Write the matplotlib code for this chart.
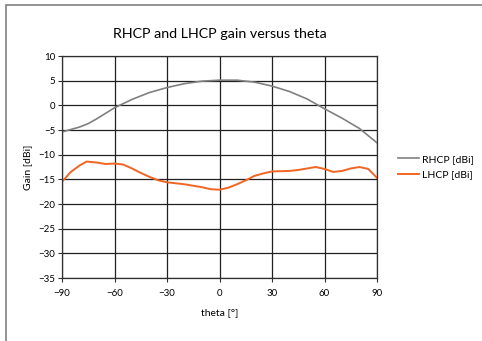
import numpy as np
import matplotlib.pyplot as plt
from matplotlib.patches import Rectangle

plt.rcParams['font.family'] = ['Lato', 'DejaVu Sans']

# gain curves read at 5/10 degree steps
theta_r = [-90, -80, -75, -70, -60, -50, -40, -30, -20, -10, 0, 10, 20, 30, 40, 50, 60, 70, 80, 90]
rhcp = [-5.4, -4.4, -3.7, -2.7, -0.5, 1.2, 2.6, 3.6, 4.4, 4.9, 5.1, 5.1, 4.7, 3.9, 2.8, 1.3, -0.7, -2.6, -4.7, -7.6]

theta_l = [-90, -85, -80, -76, -70, -65, -60, -55, -50, -45, -40, -35, -30, -20, -10, -5, 0,
           5, 10, 15, 20, 25, 30, 40, 45, 50, 55, 60, 65, 70, 75, 80, 85, 90]
lhcp = [-15.5, -13.5, -12.2, -11.4, -11.6, -11.9, -11.8, -12.0, -12.8, -13.7, -14.5, -15.2, -15.6,
        -16.0, -16.6, -17.0, -17.1, -16.7, -16.0, -15.2, -14.3, -13.8, -13.4, -13.3, -13.1, -12.8,
        -12.5, -12.9, -13.5, -13.3, -12.8, -12.5, -12.9, -14.7]

xticks = [-90, -60, -30, 0, 30, 60, 90]
yticks = list(range(-35, 11, 5))

fig = plt.figure(figsize=(4.82, 3.41), dpi=100)
fig.patches.append(Rectangle((6 / 482, -0.1), 1.2, 0.1 + 336 / 341, transform=fig.transFigure,
                             fill=False, edgecolor='#808080', linewidth=1.2))

ax = fig.add_axes([62 / 482, 1 - 278 / 341, 315 / 482, 222 / 341])
ax.plot(theta_r, rhcp, color='#808080', linewidth=1.2, label='RHCP [dBi]')
ax.plot(theta_l, lhcp, color='#f26522', linewidth=1.4, label='LHCP [dBi]')

ax.set_xlim(-90, 90)
ax.set_ylim(-35, 10)
ax.set_xticks(xticks)
ax.set_yticks(yticks)
ax.grid(True, color='#202020', linewidth=0.9)
ax.set_axisbelow(True)
for s in ax.spines.values():
    s.set_color('#303030')
    s.set_linewidth(0.9)
ax.tick_params(labelsize=7, length=3, width=0.8, color='#303030', pad=2)
ax.tick_params(axis='x', pad=5)

ax.set_title('RHCP and LHCP gain versus theta', fontsize=10.3, pad=13)
ax.set_xlabel('theta [°]', fontsize=7.5, labelpad=7)
ax.set_ylabel('Gain [dBi]', fontsize=7.5, labelpad=4)

ax.legend(loc='center left', bbox_to_anchor=(1.055, 0.5), frameon=False, fontsize=7.5,
          handlelength=2.0, handletextpad=0.3, labelspacing=0.6, borderaxespad=0)

fig.savefig('out.png', dpi=100)
